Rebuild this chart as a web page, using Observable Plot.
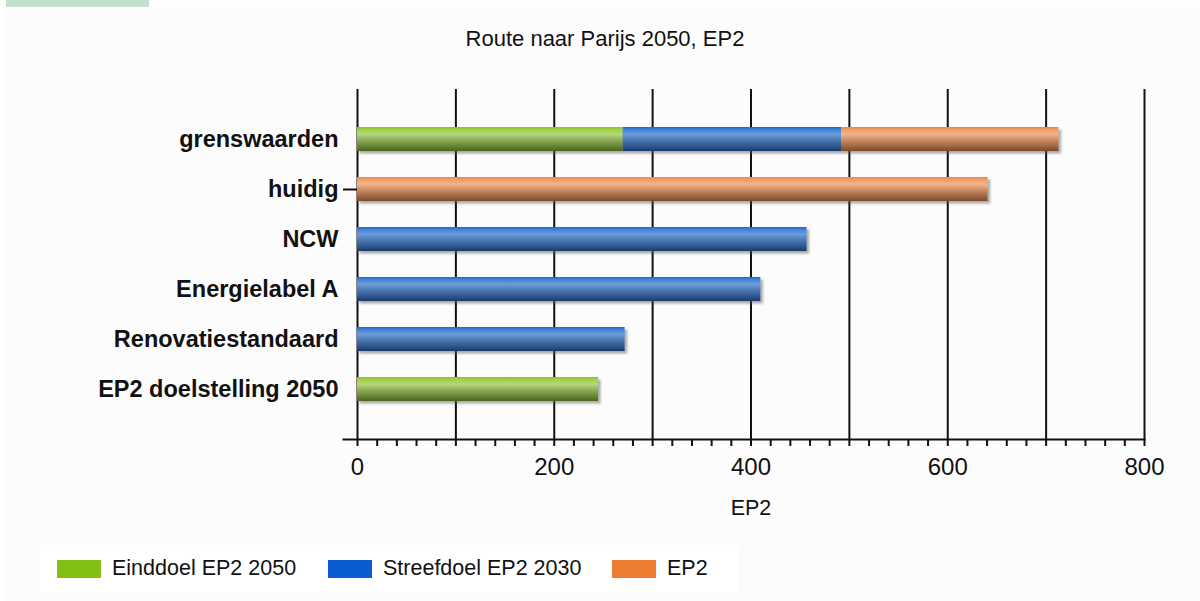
<!DOCTYPE html>
<html>
<head>
<meta charset="utf-8">
<script src="https://cdn.jsdelivr.net/npm/d3@7"></script>
<script src="https://cdn.jsdelivr.net/npm/@observablehq/plot@0.6"></script>
<style>
  html, body { margin: 0; padding: 0; background: #ffffff; }
  #page { position: relative; width: 1200px; height: 601px; overflow: hidden; font-family: "Liberation Sans", Arial, sans-serif; color: #111; }
  #panel { position: absolute; left: 3px; top: 7px; width: 1197px; height: 594px; background: #fcfcfc; }
  #tab { position: absolute; left: 6px; top: 0; width: 143px; height: 7px; background: #c2dfce; }
  #title { position: absolute; left: 405px; top: 28px; width: 400px; text-align: center; font-size: 22px; line-height: 22px; }
  #chart { position: absolute; left: 0; top: 60px; }
  #legend { position: absolute; left: 40px; top: 545px; width: 698px; height: 47px; background: #ffffff; }
  .item { position: absolute; top: 0; height: 47px; display: flex; align-items: center; font-size: 21.5px; }
  .swatch { width: 44px; height: 18px; margin-right: 11px; }
</style>
</head>
<body>
<div id="page">
  <div id="panel"></div>
  <div id="tab"></div>
  <div id="title">Route naar Parijs 2050, EP2</div>
  <div id="chart"></div>
  <div id="legend"></div>
</div>
<script>
// Categories, top to bottom
const categories = ["grenswaarden", "huidig", "NCW", "Energielabel A", "Renovatiestandaard", "EP2 doelstelling 2050"];
// Series, in stacking order
const series = ["Einddoel EP2 2050", "Streefdoel EP2 2030", "EP2"];
// Segment lengths per category (EP2 units)
const einddoel   = [270,   0,   0,   0,   0, 245];
const streefdoel = [222,   0, 457, 410, 272,   0];
const ep2        = [221, 641,   0,   0,   0,   0];
// Axis ticks
const xLabelTicks = [0, 200, 400, 600, 800];
const xGridTicks = [0, 100, 200, 300, 400, 500, 600, 700, 800];
const xMinorTicks = d3.range(0, 801, 20);

const legendColors = ["#84bf14", "#0b5cd0", "#ed7d31"];

const seriesValues = [einddoel, streefdoel, ep2];
const rows = [];
categories.forEach((c, i) => {
  series.forEach((s, j) => {
    const v = seriesValues[j][i];
    if (v > 0) rows.push({category: c, series: s, value: v});
  });
});

const chart = Plot.plot({
  width: 1200,
  height: 470,
  marginTop: 29,
  marginBottom: 91,
  marginLeft: 357,
  marginRight: 56,
  style: {background: "transparent", fontFamily: "'Liberation Sans', Arial, sans-serif", color: "#111"},
  x: {domain: [0, 800]},
  y: {domain: categories, paddingInner: 0.52, paddingOuter: 0.76, round: false},
  color: {domain: series, range: ["url(#gGreen)", "url(#gBlue)", "url(#gOrange)"]},
  marks: [
    Plot.ruleX(xGridTicks, {stroke: "#111", strokeWidth: 2}),
    Plot.barX(rows, {y: "category", x: "value", fill: "series"}),
    Plot.frame({anchor: "bottom", stroke: "#111", strokeWidth: 2, insetLeft: -14}),
    Plot.axisX({
      ticks: xMinorTicks, tickSize: 7, tickPadding: 11, strokeWidth: 2, stroke: "#111",
      tickFormat: d => xLabelTicks.includes(d) ? String(d) : "",
      fontSize: 24, label: null
    }),
    Plot.axisY({tickSize: 0, tickPadding: 19, fontSize: 23.5, fontWeight: "bold", label: null}),
    Plot.axisY({ticks: ["huidig"], tickSize: 14, strokeWidth: 2, stroke: "#111", tickFormat: () => "", label: null}),
    Plot.text(["EP2"], {frameAnchor: "bottom", dy: 69, fontSize: 21.5, lineAnchor: "middle", fill: "#111"})
  ]
});

// Gradients and shadow for the bars
const defs = document.createElementNS("http://www.w3.org/2000/svg", "defs");
defs.innerHTML = `
  <linearGradient id="gGreen" x1="0" y1="0" x2="0" y2="1">
    <stop offset="0" stop-color="#86c51a"/>
    <stop offset="0.08" stop-color="#9ccf3d"/>
    <stop offset="0.3" stop-color="#b6d77c"/>
    <stop offset="0.55" stop-color="#8eab55"/>
    <stop offset="0.85" stop-color="#5e7c30"/>
    <stop offset="1" stop-color="#4a6322"/>
  </linearGradient>
  <linearGradient id="gBlue" x1="0" y1="0" x2="0" y2="1">
    <stop offset="0" stop-color="#1a66d0"/>
    <stop offset="0.08" stop-color="#3a7fd8"/>
    <stop offset="0.3" stop-color="#6d9dd9"/>
    <stop offset="0.55" stop-color="#4a78b2"/>
    <stop offset="0.85" stop-color="#2a5088"/>
    <stop offset="1" stop-color="#1b3a66"/>
  </linearGradient>
  <linearGradient id="gOrange" x1="0" y1="0" x2="0" y2="1">
    <stop offset="0" stop-color="#ef8540"/>
    <stop offset="0.08" stop-color="#f09a60"/>
    <stop offset="0.3" stop-color="#f2b48c"/>
    <stop offset="0.55" stop-color="#c98a62"/>
    <stop offset="0.85" stop-color="#94603c"/>
    <stop offset="1" stop-color="#7a4a2a"/>
  </linearGradient>
  <filter id="barShadow" x="-5%" y="-30%" width="110%" height="170%">
    <feDropShadow dx="2.5" dy="2.5" stdDeviation="1.2" flood-color="#555" flood-opacity="0.5"/>
  </filter>`;
chart.insertBefore(defs, chart.firstChild);
d3.select(chart).select('g[aria-label="bar"]').attr("filter", "url(#barShadow)");

document.getElementById("chart").appendChild(chart);

// Legend
const legendPos = [17, 288, 572];
const legend = d3.select("#legend");
series.forEach((s, i) => {
  const item = legend.append("div").attr("class", "item").style("left", legendPos[i] + "px");
  item.append("div").attr("class", "swatch").style("background", legendColors[i]);
  item.append("span").text(s);
});
</script>
</body>
</html>
